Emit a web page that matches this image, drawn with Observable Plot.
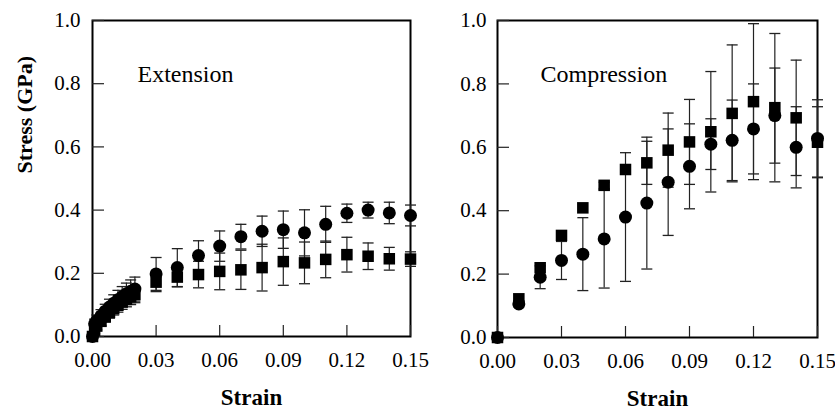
<!DOCTYPE html>
<html>
<head>
<meta charset="utf-8">
<script src="https://cdn.jsdelivr.net/npm/d3@7"></script>
<script src="https://cdn.jsdelivr.net/npm/@observablehq/plot@0.6"></script>
<style>
  html, body { margin: 0; padding: 0; background: #fff; }
  #chart { display: flex; width: 835px; height: 412px; }
  #chart svg, #chart svg text { font-family: "Liberation Serif", serif !important; }
</style>
</head>
<body>
<div id="chart"></div>
<script>
// ---- Data ----
const xTicks = [0, 0.03, 0.06, 0.09, 0.12, 0.15];
const yTicks = [0, 0.2, 0.4, 0.6, 0.8, 1.0];

// Extension panel
const extStrain = [0, 0.001, 0.002, 0.004, 0.006, 0.008, 0.010, 0.012, 0.014, 0.016, 0.018, 0.020,
                   0.03, 0.04, 0.05, 0.06, 0.07, 0.08, 0.09, 0.10, 0.11, 0.12, 0.13, 0.14, 0.15];
const extCircle = [0, 0.040, 0.050, 0.065, 0.080, 0.093, 0.105, 0.116, 0.126, 0.135, 0.143, 0.150,
                   0.198, 0.218, 0.256, 0.286, 0.316, 0.333, 0.338, 0.328, 0.355, 0.390, 0.400, 0.391, 0.383];
const extCircleErr = [0, 0.015, 0.018, 0.020, 0.022, 0.025, 0.027, 0.030, 0.032, 0.034, 0.036, 0.038,
                   0.052, 0.060, 0.047, 0.048, 0.039, 0.048, 0.059, 0.073, 0.057, 0.029, 0.025, 0.034, 0.033];
const extSquare = [0, 0.020, 0.033, 0.048, 0.062, 0.076, 0.088, 0.099, 0.109, 0.118, 0.126, 0.133,
                   0.172, 0.188, 0.196, 0.206, 0.211, 0.218, 0.237, 0.233, 0.244, 0.259, 0.254, 0.246, 0.245];
const extSquareErr = [0, 0.010, 0.012, 0.014, 0.016, 0.018, 0.020, 0.022, 0.023, 0.024, 0.025, 0.026,
                   0.030, 0.031, 0.042, 0.058, 0.062, 0.074, 0.075, 0.066, 0.058, 0.055, 0.042, 0.036, 0.023];

// Compression panel
const compStrain = [0, 0.01, 0.02, 0.03, 0.04, 0.05, 0.06, 0.07, 0.08, 0.09, 0.10, 0.11, 0.12, 0.13, 0.14, 0.15];
const compCircle = [0, 0.106, 0.190, 0.243, 0.263, 0.311, 0.380, 0.424, 0.490, 0.540, 0.610, 0.622, 0.658, 0.700, 0.600, 0.628];
const compCircleErr = [0, 0.010, 0.036, 0.060, 0.115, 0.155, 0.203, 0.208, 0.168, 0.134, 0.080, 0.127, 0.142, 0.150, 0.128, 0.122];
const compSquare = [0, 0.122, 0.220, 0.322, 0.409, 0.480, 0.530, 0.551, 0.591, 0.617, 0.649, 0.707, 0.744, 0.725, 0.693, 0.616];
const compSquareErr = [0, 0, 0, 0, 0, 0.010, 0.010, 0.068, 0.117, 0.134, 0.190, 0.216, 0.246, 0.234, 0.182, 0.112];

const FONT = '"Liberation Serif", serif';

function rows(xs, ys, es) {
  return xs.map((x, i) => ({x, y: ys[i], err: es[i]}));
}

const capSymbol = {
  draw(ctx, size) {
    const w = Math.sqrt(size / Math.PI);
    ctx.moveTo(-w, 0);
    ctx.lineTo(w, 0);
  }
};

function panel({width, marginLeft, marginRight, marginBottom, circles, squares, title, titleDx, yLabel, yPad}) {
  const height = 412, marginTop = 20;
  const plotH = height - marginTop - marginBottom;
  const plotW = width - marginLeft - marginRight;
  const all = circles.concat(squares).filter(d => d.err > 0);
  const marks = [
    Plot.frame({stroke: "black", strokeWidth: 2}),
    Plot.tickX(xTicks, {x: d => d, insetTop: plotH - 11, stroke: "#222", strokeWidth: 1.2}),
    Plot.tickY(yTicks, {y: d => d, insetRight: plotW - 12, stroke: "#222", strokeWidth: 1.2}),
    Plot.axisX({ticks: xTicks, tickFormat: d3.format(".2f"), tickSize: 0, tickPadding: 16, fontSize: 21, fontFamily: FONT, label: null}),
    Plot.axisY({ticks: yTicks, tickFormat: d3.format(".1f"), tickSize: 0, tickPadding: yPad, fontSize: 21, fontFamily: FONT, label: null}),
    Plot.ruleX(all, {x: "x", y1: d => d.y - d.err, y2: d => d.y + d.err, stroke: "#222", strokeWidth: 1.2}),
    Plot.dot(all, {x: "x", y: d => d.y + d.err, r: 5.5, symbol: capSymbol, stroke: "#222", strokeWidth: 1.3, fill: "none"}),
    Plot.dot(all, {x: "x", y: d => d.y - d.err, r: 5.5, symbol: capSymbol, stroke: "#222", strokeWidth: 1.3, fill: "none"}),
    Plot.dot(squares, {x: "x", y: "y", r: 6.5, symbol: "square", fill: "black"}),
    Plot.dot(circles, {x: "x", y: "y", r: 6.5, symbol: "circle", fill: "black"}),
    Plot.text([title], {text: d => d, frameAnchor: "top-left", textAnchor: "start", dx: titleDx, dy: 44.5, fontSize: 24, fontFamily: FONT}),
    Plot.text(["Strain"], {text: d => d, frameAnchor: "bottom", dy: 68, fontSize: 23, fontWeight: "bold", fontFamily: FONT})
  ];
  if (yLabel) {
    marks.push(Plot.text([yLabel], {text: d => d, frameAnchor: "left", rotate: -90, dx: -68, dy: -5, fontSize: 22, fontWeight: "bold", fontFamily: FONT}));
  }
  return Plot.plot({
    width, height, marginTop, marginBottom, marginLeft, marginRight,
    style: {fontFamily: FONT, color: "black", background: "white", overflow: "visible"},
    x: {domain: [0, 0.15], label: null},
    y: {domain: [0, 1], label: null},
    marks
  });
}

const chart = document.getElementById("chart");
chart.appendChild(panel({
  width: 430, marginLeft: 92, marginRight: 20, marginBottom: 76,
  circles: rows(extStrain, extCircle, extCircleErr),
  squares: rows(extStrain, extSquare, extSquareErr),
  title: "Extension", titleDx: 45, yLabel: "Stress (GPa)", yPad: 12
}));
chart.appendChild(panel({
  width: 405, marginLeft: 67, marginRight: 18, marginBottom: 75,
  circles: rows(compStrain, compCircle, compCircleErr),
  squares: rows(compStrain, compSquare, compSquareErr),
  title: "Compression", titleDx: 43, yLabel: null, yPad: 11
}));
</script>
</body>
</html>
